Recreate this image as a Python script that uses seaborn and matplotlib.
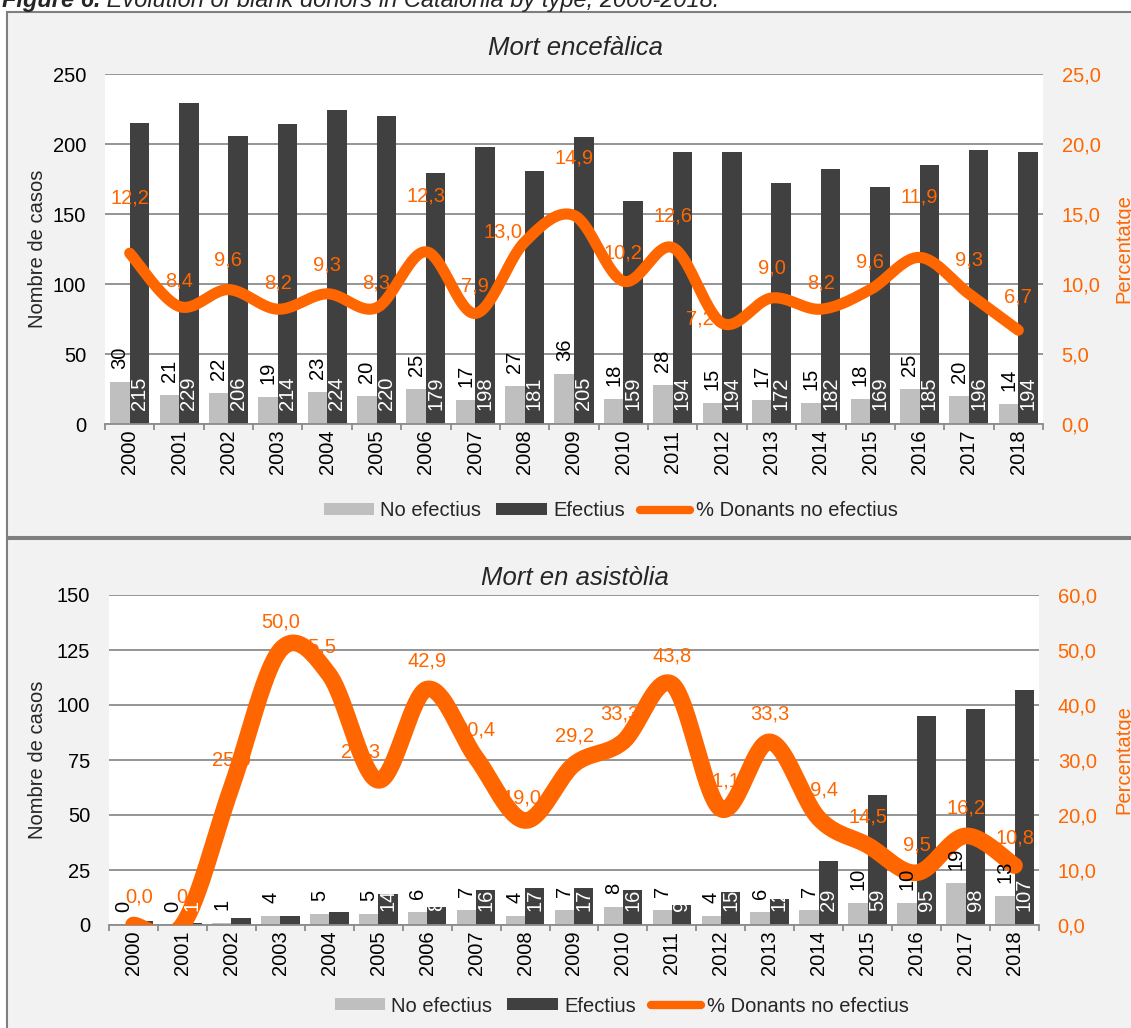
import numpy as np
import pandas as pd
import seaborn as sns
import matplotlib.pyplot as plt
from matplotlib.patches import Rectangle, Patch
from matplotlib.lines import Line2D

# ---- data ----
years = [str(y) for y in range(2000, 2019)]

me_no_efectius = [30, 21, 22, 19, 23, 20, 25, 17, 27, 36, 18, 28, 15, 17, 15, 18, 25, 20, 14]
me_efectius = [215, 229, 206, 214, 224, 220, 179, 198, 181, 205, 159, 194, 194, 172, 182, 169, 185, 196, 194]
me_pct = [12.2, 8.4, 9.6, 8.2, 9.3, 8.3, 12.3, 7.9, 13.0, 14.9, 10.2, 12.6, 7.2, 9.0, 8.2, 9.6, 11.9, 9.3, 6.7]

ma_no_efectius = [0, 0, 1, 4, 5, 5, 6, 7, 4, 7, 8, 7, 4, 6, 7, 10, 10, 19, 13]
ma_efectius = [2, 1, 3, 4, 6, 14, 8, 16, 17, 17, 16, 9, 15, 12, 29, 59, 95, 98, 107]
ma_pct = [0.0, 0.0, 25.0, 50.0, 45.5, 26.3, 42.9, 30.4, 19.0, 29.2, 33.3, 43.8, 21.1, 33.3, 19.4, 14.5, 9.5, 16.2, 10.8]

# label nudges (pixels, as placed in the original)
me_lbl_dy = [-55, -25, -30, -26, -29, -25, -56, -27, -10, -57, -28, -32, -4, -30, -26, -28, -60, -34, -33]
me_lbl_dx = [0, 0, 0, 0, 0, 0, 0, 0, -22, 0, 0, 0, -22, 0, 0, 0, 0, 0, 0]
ma_lbl_dy = [-28] * 8 + [-22] + [-28] * 10
ma_lbl_dx = [6, 8, 0, 0, -12, -18, 0, 0, -3, 0, -3, 0, 0, 0, 0, 0, 0, 0, 0]

LIGHT = "#bfbfbf"
DARK = "#404040"
ORANGE = "#ff6600"
GRID = "#8c8c8c"
PANEL = "#f2f2f2"

W, H = 1131, 1028
FS = 14.5

sns.set_theme(style="white")
plt.rcParams["font.family"] = ["Liberation Sans", "DejaVu Sans"]


def fx(px):
    return px / W


def fy(py):
    return 1 - py / H


def smooth(vals, n=40):
    p = np.column_stack([np.arange(len(vals)), vals]).astype(float)
    p = np.vstack([p[0], p, p[-1]])
    t = np.linspace(0, 1, n)[:, None]
    out = []
    for i in range(1, len(p) - 2):
        p0, p1, p2, p3 = p[i - 1], p[i], p[i + 1], p[i + 2]
        c1 = p1 + (p2 - p0) / 6
        c2 = p2 - (p3 - p1) / 6
        seg = (1 - t) ** 3 * p1 + 3 * (1 - t) ** 2 * t * c1 + 3 * (1 - t) * t ** 2 * c2 + t ** 3 * p2
        out.append(seg if i == 1 else seg[1:])
    return np.vstack(out)


def fmt(v):
    return f"{v:.1f}".replace(".", ",")


fig = plt.figure(figsize=(W / 100, H / 100), dpi=100, facecolor="white")

# panel boxes
fig.patches.append(Rectangle((fx(7), fy(537)), 1.0, fy(12) - fy(537), transform=fig.transFigure,
                             facecolor=PANEL, edgecolor="#7f7f7f", lw=1.5, zorder=-10))
fig.patches.append(Rectangle((fx(7), fy(1040)), 1.0, fy(539) - fy(1040), transform=fig.transFigure,
                             facecolor=PANEL, edgecolor="#7f7f7f", lw=1.5, zorder=-10))


def panel(box, title, title_y, no_ef, ef, pct, ymax, ystep, pmax, pstep, lw, lbl_dx, lbl_dy, leg_x, leg_y):
    left, top, right, bottom = box
    ax = fig.add_axes([fx(left), fy(bottom), fx(right) - fx(left), fy(top) - fy(bottom)])
    ax.set_facecolor("white")

    df = pd.DataFrame({
        "year": years * 2,
        "casos": no_ef + ef,
        "tipus": ["No efectius"] * len(years) + ["Efectius"] * len(years),
    })
    sns.barplot(data=df, x="year", y="casos", hue="tipus", palette=[LIGHT, DARK],
                width=0.79, saturation=1, linewidth=0, legend=False, ax=ax)

    ax.set_xlim(-0.5, len(years) - 0.5)
    ax.set_ylim(0, ymax)
    ax.set_yticks(np.arange(0, ymax + 1, ystep))
    ax.yaxis.grid(True, color=GRID, lw=1.3)
    ax.set_axisbelow(True)
    for s in ["left", "right", "top"]:
        ax.spines[s].set_visible(False)
    ax.spines["bottom"].set_color(GRID)
    ax.spines["bottom"].set_linewidth(1.3)
    ax.set_xlabel("")
    ax.set_ylabel("")
    ax.set_xticks(range(len(years)))
    ax.set_xticklabels(years, rotation=90)
    ax.set_xticks(np.arange(-0.5, len(years), 1), minor=True)
    ax.tick_params(axis="x", which="major", length=0, pad=4, labelsize=FS, colors="black")
    ax.tick_params(axis="x", which="minor", length=4.5, width=1.3, color=GRID, bottom=True)
    ax.tick_params(axis="y", length=0, pad=13.5, labelsize=FS, colors="black")

    ax2 = ax.twinx()
    ax2.set_ylim(0, pmax)
    ax2.set_yticks(np.arange(0, pmax + 0.1, pstep))
    ax2.set_yticklabels([fmt(v) for v in np.arange(0, pmax + 0.1, pstep)])
    ax2.tick_params(axis="y", length=0, pad=13.5, labelsize=FS, colors=ORANGE)
    ax2.grid(False)
    for s in ax2.spines.values():
        s.set_visible(False)

    curve = smooth(pct)
    ax2.plot(curve[:, 0], curve[:, 1], color=ORANGE, lw=lw, solid_capstyle="round",
             solid_joinstyle="round", clip_on=True, zorder=2)

    # bar value labels (drawn over the line)
    for cont, is_ef in zip(ax.containers, [False, True]):
        for rect, v in zip(cont.patches, ef if is_ef else no_ef):
            xc = rect.get_x() + rect.get_width() / 2
            if is_ef:
                ax2.annotate(str(v), (xc, 0), xycoords=ax.transData, xytext=(0, 14),
                             textcoords="offset pixels", rotation=90, ha="center", va="bottom",
                             color="white", fontsize=FS, zorder=5)
            else:
                ax2.annotate(str(v), (xc, v), xycoords=ax.transData, xytext=(0, 13),
                             textcoords="offset pixels", rotation=90, ha="center", va="bottom",
                             color="black", fontsize=FS, zorder=5)

    for i, v in enumerate(pct):
        ax2.annotate(fmt(v), (i, v), xytext=(lbl_dx[i], -lbl_dy[i]), textcoords="offset pixels",
                     ha="center", va="center", color=ORANGE, fontsize=FS, zorder=6)

    mid = (top + bottom) / 2
    fig.text(fx(575), fy(title_y), title, fontsize=18.5, fontstyle="italic", ha="center", va="center")
    fig.text(fx(38), fy(mid), "Nombre de casos", rotation=90, fontsize=FS, ha="center", va="center")
    fig.text(fx(1124), fy(mid), "Percentatge", rotation=90, fontsize=FS, ha="center", va="center",
             color=ORANGE)

    handles = [Patch(facecolor=LIGHT, edgecolor="none"), Patch(facecolor=DARK, edgecolor="none"),
               Line2D([0], [0], color=ORANGE, lw=6, solid_capstyle="round")]
    fig.legend(handles, ["No efectius", "Efectius", "% Donants no efectius"], loc="center",
               bbox_to_anchor=(fx(leg_x), fy(leg_y)), ncol=3, frameon=False, fontsize=FS,
               handlelength=2.5, handleheight=0.55, handletextpad=0.3, columnspacing=0.75,
               borderpad=0)
    return ax, ax2


panel((105, 74, 1043, 424), "Mort encefàlica", 48, me_no_efectius, me_efectius, me_pct,
      250, 50, 25, 5, 8, me_lbl_dx, me_lbl_dy, 611, 511)
panel((109, 595, 1039, 925), "Mort en asistòlia", 578, ma_no_efectius, ma_efectius, ma_pct,
      150, 25, 60, 10, 12, ma_lbl_dx, ma_lbl_dy, 622, 1006)

# clipped caption at the very top
cap1 = fig.text(fx(2), fy(7), "Figure 6.", fontsize=17, fontweight="bold", fontstyle="italic",
                va="baseline", ha="left")
fig.canvas.draw()
bb = cap1.get_window_extent()
fig.text(bb.x1 / W, fy(7), " Evolution of blank donors in Catalonia by type, 2000-2018.",
         fontsize=17, fontstyle="italic", va="baseline", ha="left")

fig.savefig("out.png", dpi=100, facecolor="white")
plt.close("all")
